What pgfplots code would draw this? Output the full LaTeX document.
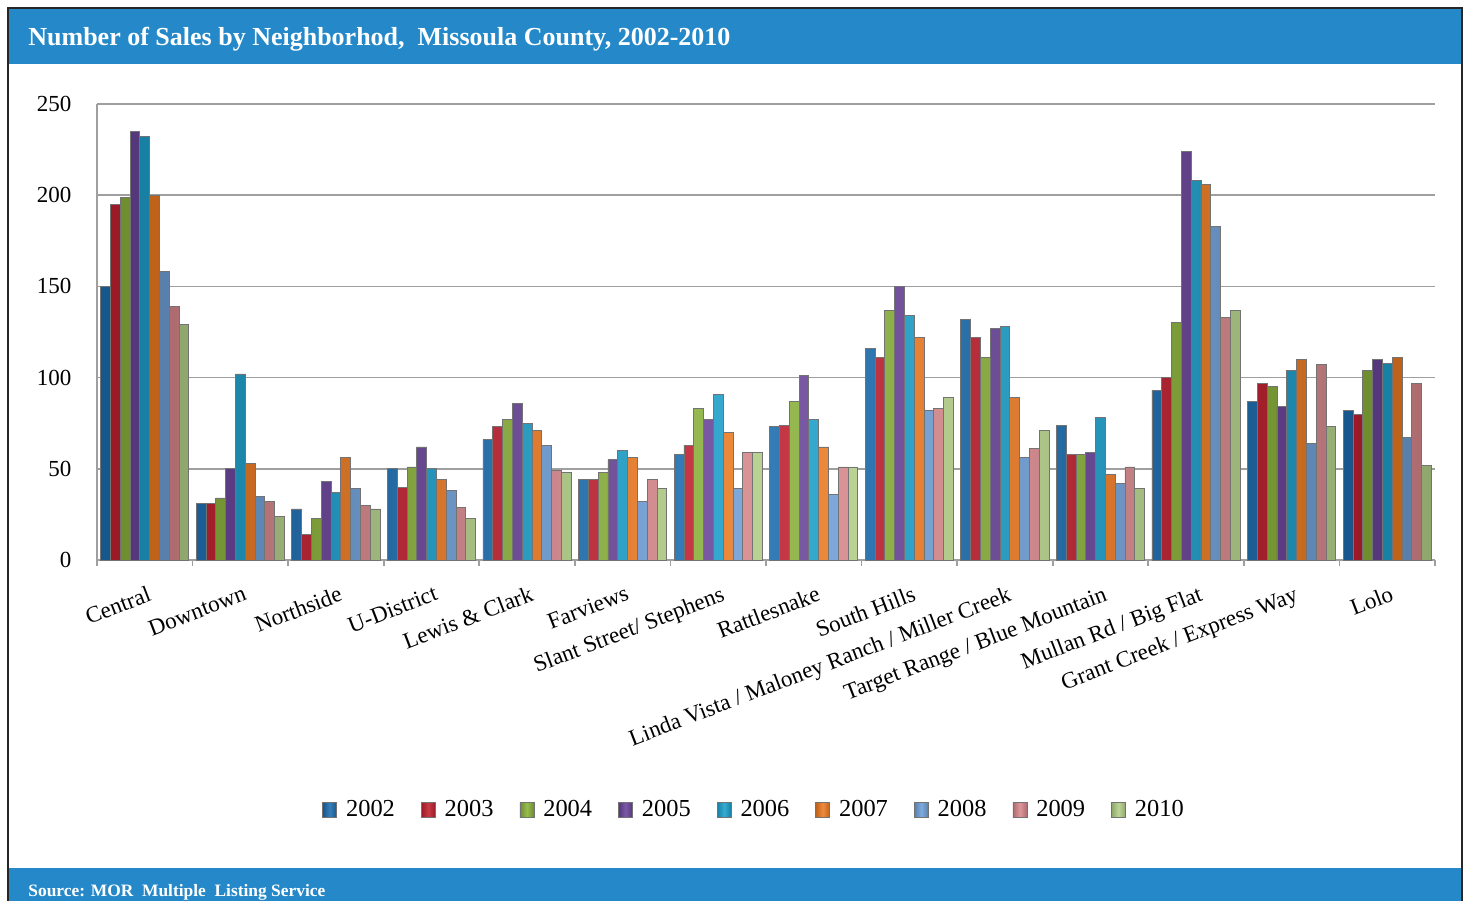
\documentclass[border=0pt]{standalone}
\usepackage{fontspec}
\setmainfont{Liberation Serif}
\usepackage{pgfplots}
\pgfplotsset{compat=1.18}
\usepackage{pgfplotstable}

\definecolor{hdr}{HTML}{2589C9}
\definecolor{cA}{HTML}{1B6DB0}
\definecolor{cB}{HTML}{C0202F}
\definecolor{cC}{HTML}{8AB13A}
\definecolor{cD}{HTML}{6A449A}
\definecolor{cE}{HTML}{1CA0CC}
\definecolor{cF}{HTML}{EE7B22}
\definecolor{cG}{HTML}{6FA0D8}
\definecolor{cH}{HTML}{D8888C}
\definecolor{cI}{HTML}{B3D088}

\pgfplotstableread{
idx y2002 y2003 y2004 y2005 y2006 y2007 y2008 y2009 y2010
0  150 195 199 235 232 200 158 139 129
1  31  31  34  50  102 53  35  32  24
2  28  14  23  43  37  56  39  30  28
3  50  40  51  62  50  44  38  29  23
4  66  73  77  86  75  71  63  49  48
5  44  44  48  55  60  56  32  44  39
6  58  63  83  77  91  70  39  59  59
7  73  74  87  101 77  62  36  51  51
8  116 111 137 150 134 122 82  83  89
9  132 122 111 127 128 89  56  61  71
10 74  58  58  59  78  47  42  51  39
11 93  100 130 224 208 206 183 133 137
12 87  97  95  84  104 110 64  107 73
13 82  80  104 110 108 111 67  97  52
}\datatable

\pgfplotsset{
  mybar/.style={draw=black!55, line width=0.4pt,
    left color=#1!80!black, right color=#1!80!black, middle color=#1!88!white,
    legend image code/.code={\draw[##1] (0pt,-3.6pt) rectangle (7pt,3.6pt);}},
}

\newcommand{\tfont}{\fontsize{11.5pt}{13pt}\selectfont}

\begin{document}
\begin{tikzpicture}
\path[use as bounding box] (0,0) rectangle (734pt,-450.5pt);
\fill[white] (0,0) rectangle (734pt,-450.5pt);
\fill[hdr] (4pt,-4pt) rectangle (731pt,-32pt);
\fill[hdr] (4pt,-434pt) rectangle (731pt,-450.5pt);
\draw[black!85, line width=1.2pt] (4pt,-450.5pt) -- (4pt,-4pt) -- (731pt,-4pt) -- (731pt,-450.5pt);
\node[anchor=base west, text=white, inner sep=0pt, font=\bfseries\fontsize{13pt}{15pt}\selectfont] at (14pt,-22.5pt) {Number of Sales by Neighborhod, \ Missoula County, 2002-2010};
\node[anchor=base west, text=white, inner sep=0pt, font=\bfseries\fontsize{8.7pt}{10pt}\selectfont] at (14pt,-448pt) {Source: MOR \ Multiple \ Listing Service};

\begin{axis}[
  scale only axis, width=669pt, height=228pt,
  at={(48.5pt,-280pt)}, anchor=south west,
  xmin=-0.5, xmax=13.5, ymin=0, ymax=250,
  ytick={0,50,...,250},
  axis x line*=bottom, axis y line*=left,
  axis line style={gray!75, line width=0.8pt, -},
  ymajorgrids, grid style={gray!75, line width=0.8pt},
  ybar=0pt, bar width=0.1025,
  xtick={0,...,13},
  xticklabels={Central, Downtown, Northside, U-District, Lewis \& Clark, Farviews, Slant Street/ Stephens, Rattlesnake, South Hills, Linda Vista / Maloney Ranch / Miller Creek, Target Range / Blue Mountain, Mullan Rd / Big Flat, Grant Creek / Express Way, Lolo},
  major x tick style={draw=none},
  minor xtick={-0.5,0.5,...,13.5},
  minor x tick style={gray!75, line width=0.8pt},
  minor tick length=3pt, tick align=outside,
  ytick style={draw=none},
  xticklabel style={rotate=21, anchor=north east, font=\tfont, inner sep=1pt, yshift=-7pt, xshift=-1pt},
  yticklabel style={font=\tfont, xshift=-5pt},
  /pgf/number format/assume math mode=true,
  legend columns=9,
  legend style={draw=none, fill=none, at={(0.4918,-0.548)}, anchor=center, font=\fontsize{12.2pt}{14pt}\selectfont,
    /tikz/every odd column/.append style={column sep=2.5pt},
    /tikz/every even column/.append style={column sep=11pt}},
]
\addplot[mybar=cA] table[x=idx, y=y2002] {\datatable};
\addplot[mybar=cB] table[x=idx, y=y2003] {\datatable};
\addplot[mybar=cC] table[x=idx, y=y2004] {\datatable};
\addplot[mybar=cD] table[x=idx, y=y2005] {\datatable};
\addplot[mybar=cE] table[x=idx, y=y2006] {\datatable};
\addplot[mybar=cF] table[x=idx, y=y2007] {\datatable};
\addplot[mybar=cG] table[x=idx, y=y2008] {\datatable};
\addplot[mybar=cH] table[x=idx, y=y2009] {\datatable};
\addplot[mybar=cI] table[x=idx, y=y2010] {\datatable};
\legend{2002,2003,2004,2005,2006,2007,2008,2009,2010}
\end{axis}
\end{tikzpicture}
\end{document}
